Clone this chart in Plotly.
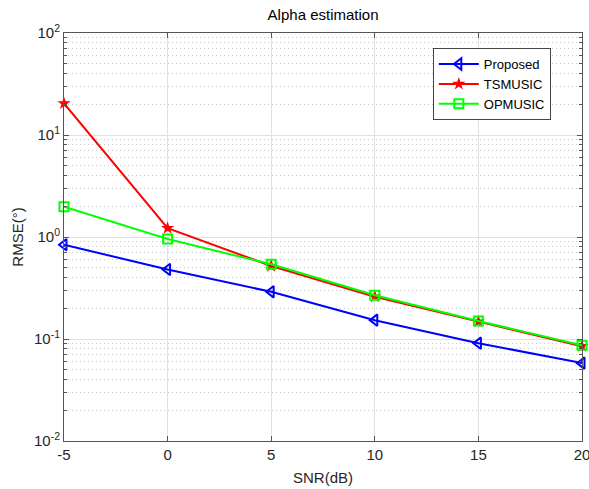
import plotly.graph_objects as go

snr = [-5, 0, 5, 10, 15, 20]
proposed = [0.84, 0.48, 0.29, 0.153, 0.091, 0.058]
tsmusic = [20.4, 1.22, 0.52, 0.26, 0.148, 0.085]
opmusic = [1.98, 0.955, 0.54, 0.268, 0.15, 0.087]

x_ticks = [-5, 0, 5, 10, 15, 20]
y_tickvals = [0.01, 0.1, 1, 10, 100]
y_ticktext = ["10<sup>-2</sup>", "10<sup>-1</sup>", "10<sup>0</sup>", "10<sup>1</sup>", "10<sup>2</sup>"]
y_minor = [m * 10 ** e for e in range(-2, 2) for m in range(2, 10)]

font_family = "Liberation Sans, Arial, sans-serif"

fig = go.Figure()
fig.add_trace(go.Scatter(x=snr, y=proposed, name="Proposed", mode="lines+markers",
                         cliponaxis=False,
                         line=dict(color="#0000ff", width=2),
                         marker=dict(symbol="triangle-left-open", size=10, color="#0000ff",
                                     line=dict(width=2))))
fig.add_trace(go.Scatter(x=snr, y=tsmusic, name="TSMUSIC", mode="lines+markers",
                         cliponaxis=False,
                         line=dict(color="#ff0000", width=2),
                         marker=dict(symbol="star", size=10, color="#ff0000")))
fig.add_trace(go.Scatter(x=snr, y=opmusic, name="OPMUSIC", mode="lines+markers",
                         cliponaxis=False,
                         line=dict(color="#00ff00", width=2),
                         marker=dict(symbol="square-open", size=9, color="#00ff00",
                                     line=dict(width=2))))

fig.update_layout(
    width=589, height=489,
    margin=dict(l=64, r=7, t=33, b=48),
    paper_bgcolor="white", plot_bgcolor="white",
    font=dict(family=font_family, size=13, color="#262626"),
    title=dict(text="Alpha estimation", x=0.5485, xanchor="center", y=0.97, yanchor="middle",
               font=dict(size=15, color="#000000")),
    showlegend=True,
    legend=dict(x=0.712, y=0.963, xanchor="left", yanchor="top",
                bgcolor="white", bordercolor="#444444", borderwidth=1,
                font=dict(size=13, color="#000000"),
                tracegroupgap=0, itemwidth=40),
)

fig.update_xaxes(
    range=[-5, 20], tickvals=x_ticks, ticktext=[str(v) for v in x_ticks],
    title=dict(text="SNR(dB)", font=dict(size=15), standoff=10),
    showline=True, linecolor="#555555", linewidth=1, mirror="ticks",
    ticks="inside", ticklen=5, tickcolor="#555555",
    showgrid=True, gridcolor="#e0e0e0", gridwidth=1,
    zeroline=False, tickfont=dict(size=15), automargin=False,
    ticklabeloverflow="allow",
)
fig.update_yaxes(
    type="log", range=[-2, 2], tickvals=y_tickvals, ticktext=y_ticktext,
    title=dict(text="RMSE(°)", font=dict(size=15), standoff=6),
    showline=True, linecolor="#555555", linewidth=1, mirror="ticks",
    ticks="inside", ticklen=5, tickcolor="#555555",
    showgrid=True, gridcolor="#e0e0e0", gridwidth=1,
    zeroline=False, tickfont=dict(size=15), automargin=False,
    ticklabeloverflow="allow",
    minor=dict(ticks="inside", ticklen=3, tickcolor="#555555", showgrid=True,
               gridcolor="#c8c8c8", griddash="1px,3px", gridwidth=1,
               tickvals=y_minor),
)

fig.write_html("out.html", config={"displayModeBar": False},
               post_script="document.body.style.margin='0';document.body.style.overflow='hidden';")
